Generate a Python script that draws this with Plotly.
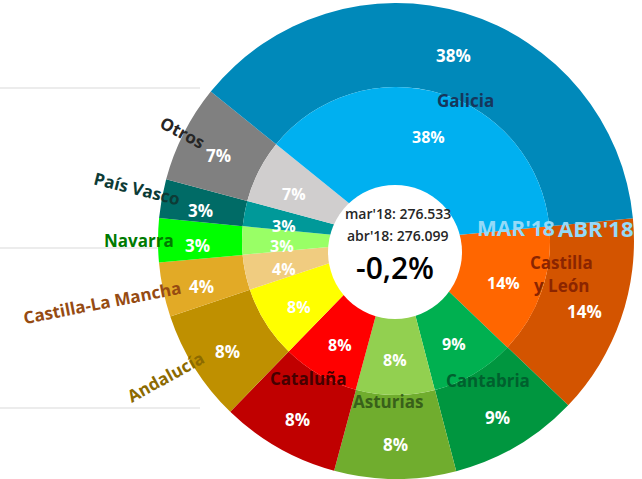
import math
import plotly.graph_objects as go

# ---------------- data ----------------
regions = ["Castilla y León", "Cantabria", "Asturias", "Cataluña", "Andalucía",
           "Castilla-La Mancha", "Navarra", "País Vasco", "Otros", "Galicia"]
abr18 = [37700, 24300, 22800, 22300, 21000, 10200, 8200, 7300, 18299, 104000]
mar18 = [37800, 24350, 22850, 22300, 21050, 10200, 8200, 7300, 18333, 104150]

outer_colors = ["#D35400", "#00963F", "#70AD2E", "#C00000", "#BF9000",
                "#E2AA26", "#00FF00", "#006B66", "#808080", "#0089BA"]
inner_colors = ["#FF6600", "#00B050", "#92D050", "#FF0000", "#FFFF00",
                "#F0CC80", "#99FF66", "#009999", "#D0CECE", "#00B0F0"]

label_colors = {"Galicia": "#16365C", "Castilla y León": "#8B2500", "Cantabria": "#00602E",
                "Asturias": "#38601A", "Cataluña": "#450000", "Andalucía": "#8C6A00",
                "Castilla-La Mancha": "#964B12", "Navarra": "#007A00",
                "País Vasco": "#0D3B36", "Otros": "#262626"}

ring_names = ["MAR'18", "ABR'18"]

W, H = 642, 479
CX, CY = 396, 241
R_OUT, R_IN = 238, 154
ROTATION = 84.5
FONT = "Open Sans"
LBL_CY = 246  # vertical centre used for the percentage labels


def paper(x, y):
    return x / W, 1 - y / H


fig = go.Figure()

# outer ring (ABR'18)
fig.add_trace(go.Pie(
    labels=regions, values=abr18, sort=False, direction="clockwise", rotation=ROTATION,
    hole=R_IN / R_OUT, textinfo="none", hoverinfo="label+value+percent",
    marker=dict(colors=outer_colors, line=dict(width=0)), showlegend=False,
    domain=dict(x=[(CX - R_OUT) / W, (CX + R_OUT) / W],
                y=[(H - CY - R_OUT) / H, (H - CY + R_OUT) / H])))

# inner ring (MAR'18)
fig.add_trace(go.Pie(
    labels=regions, values=mar18, sort=False, direction="clockwise", rotation=ROTATION,
    hole=0.35, textinfo="none", hoverinfo="label+value+percent",
    marker=dict(colors=inner_colors, line=dict(width=0)), showlegend=False,
    domain=dict(x=[(CX - R_IN) / W, (CX + R_IN) / W],
                y=[(H - CY - R_IN) / H, (H - CY + R_IN) / H])))

annotations = []


def add_text(x, y, text, size, color, bold=True, angle=0, weight=None):
    px, py = paper(x, y)
    w = weight if weight is not None else ("bold" if bold else "normal")
    annotations.append(dict(x=px, y=py, xref="paper", yref="paper", text=text,
                            showarrow=False, textangle=angle,
                            font=dict(family=FONT, size=size, color=color, weight=w),
                            xanchor="center", yanchor="middle"))


# percentage labels computed from the data
def pct_labels(values, radius, size):
    total = sum(values)
    cum = 0
    for v in values:
        mid = ROTATION + 360 * (cum + v / 2) / total
        cum += v
        a = math.radians(mid)
        x = CX + radius * math.sin(a)
        y = LBL_CY - radius * math.cos(a)
        add_text(x, y, f"{round(100 * v / total)}%", size, "white")


pct_labels(abr18, 199, 17)
pct_labels(mar18, 114, 16)

# region names
name_pos = {
    "Galicia": (465, 101, 0),
    "Cantabria": (488, 380, 0),
    "Asturias": (388, 401, 0),
    "Cataluña": (308, 378, 0),
    "Andalucía": (166, 376, -29),
    "Castilla-La Mancha": (102, 302, -11),
    "Navarra": (139, 240, 0),
    "País Vasco": (137, 189, 14),
    "Otros": (183, 132, 28),
}
for name, (x, y, ang) in name_pos.items():
    add_text(x, y, name, 17, label_colors[name], angle=ang)
add_text(561, 262, "Castilla", 17, label_colors["Castilla y León"])
add_text(561, 285, "y León", 17, label_colors["Castilla y León"])

# ring names
add_text(516, 228, ring_names[0], 21, "#94DAF8")
add_text(596, 228, ring_names[1], 22, "#94DAF8")

# center circle with totals
tot_mar, tot_abr = sum(mar18), sum(abr18)
var = (tot_abr - tot_mar) / tot_mar * 100


def fmt(n):
    return f"{n:,}".replace(",", ".")


add_text(398, 213, f"mar'18: {fmt(tot_mar)}", 14, "#262626", weight=600)
add_text(398, 235, f"abr'18: {fmt(tot_abr)}", 14, "#262626", weight=600)
add_text(395, 267, f"{var:.1f}%".replace(".", ","), 30, "#000000", weight=600)

shapes = []
# faint horizontal lines on the left
for gy in [88, 248, 408]:
    _, py = paper(0, gy)
    shapes.append(dict(type="line", xref="paper", yref="paper", x0=0, x1=200 / W,
                       y0=py, y1=py, line=dict(color="#D9D9D9", width=1), layer="below"))
# white center disc
x0, y1 = paper(395 - 67, 252 - 67)
x1, y0 = paper(395 + 67, 252 + 67)
shapes.append(dict(type="circle", xref="paper", yref="paper", x0=x0, x1=x1, y0=y0, y1=y1,
                   fillcolor="white", line=dict(width=0), layer="above"))

fig.update_layout(width=W, height=H, margin=dict(l=0, r=0, t=0, b=0),
                  paper_bgcolor="white", plot_bgcolor="white",
                  annotations=annotations, shapes=shapes, showlegend=False)

fig.write_html("out.html", config={"displayModeBar": False},
               post_script="document.body.style.margin='0';document.body.style.overflow='hidden';")
